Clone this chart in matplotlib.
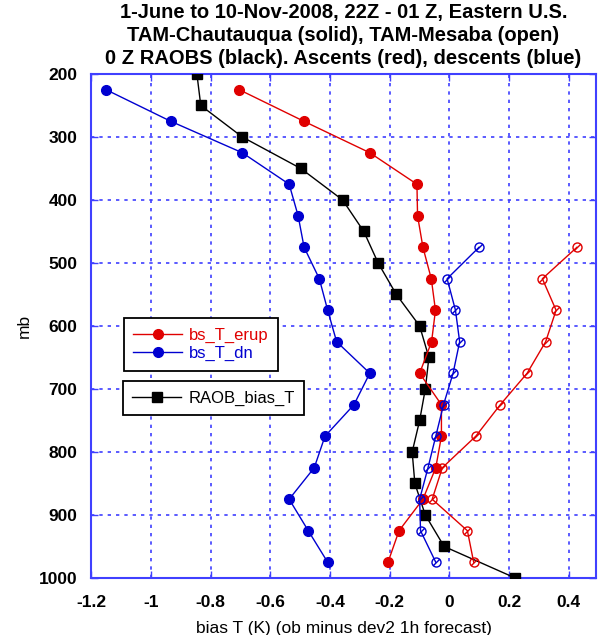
import matplotlib
matplotlib.use("Agg")
import matplotlib.pyplot as plt
from matplotlib.lines import Line2D
from matplotlib.path import Path

plt.rcParams['font.family'] = ['Liberation Sans', 'DejaVu Sans']

# RAOB bias (black squares)
p_raob = [200, 250, 300, 350, 400, 450, 500, 550, 600, 650, 700, 750, 800, 850, 900, 950, 1000]
raob = [-0.846, -0.833, -0.694, -0.498, -0.358, -0.287, -0.239, -0.178, -0.100, -0.069,
        -0.081, -0.100, -0.125, -0.116, -0.081, -0.018, 0.220]

# Chautauqua (solid)
p_ch = [225, 275, 325, 375, 425, 475, 525, 575, 625, 675, 725, 775, 825, 875, 925, 975]
ch_up = [-0.704, -0.488, -0.267, -0.109, -0.107, -0.089, -0.061, -0.047, -0.060, -0.100,
         -0.027, -0.027, -0.046, -0.089, -0.169, -0.206]
ch_dn = [-1.150, -0.934, -0.694, -0.537, -0.507, -0.487, -0.436, -0.408, -0.378, -0.267,
         -0.320, -0.417, -0.453, -0.537, -0.473, -0.408]

# Mesaba (open)
p_me = [475, 525, 575, 625, 675, 725, 775, 825, 875, 925, 975]
me_up = [0.427, 0.311, 0.357, 0.322, 0.260, 0.170, 0.088, -0.024, -0.058, 0.060, 0.081]
me_dn = [0.099, -0.008, 0.020, 0.034, 0.012, -0.020, -0.046, -0.072, -0.100, -0.097, -0.046]

xticks = [-1.2, -1, -0.8, -0.6, -0.4, -0.2, 0, 0.2, 0.4]
xtick_labels = ['-1.2', '-1', '-0.8', '-0.6', '-0.4', '-0.2', '0', '0.2', '0.4']
yticks = [200, 300, 400, 500, 600, 700, 800, 900, 1000]

RED = '#e00000'
BLUE = '#0000d0'
AXBLUE = '#4040ff'

# open circle with a slash
_circ = Path.unit_circle()
_slash = Path([[-0.6, -0.6], [0.6, 0.6]], [Path.MOVETO, Path.LINETO])
OPEN_MARK = Path.make_compound_path(_circ, _slash)

fig = plt.figure(figsize=(6.0, 6.35), dpi=100)
ax = fig.add_axes([0.152, 0.0898, 0.841, 0.7937])

ax.plot(raob, p_raob, color='black', lw=1, marker='s', ms=7, zorder=3)
ax.plot(ch_up, p_ch, color=RED, lw=1, marker='o', ms=7, zorder=4)
ax.plot(ch_dn, p_ch, color=BLUE, lw=1, marker='o', ms=7, zorder=4)
ax.plot(me_up, p_me, color=RED, lw=1, marker=OPEN_MARK, ms=6.5, mfc='none', mew=1, zorder=4)
ax.plot(me_dn, p_me, color=BLUE, lw=1, marker=OPEN_MARK, ms=6.5, mfc='none', mew=1, zorder=4)

ax.set_xlim(-1.2, 0.49)
ax.set_ylim(1000, 200)
ax.set_xticks(xticks)
ax.set_xticklabels(xtick_labels)
ax.set_yticks(yticks)
for lab in ax.get_xticklabels() + ax.get_yticklabels():
    lab.set_fontweight('bold')
    lab.set_fontsize(12.5)
ax.tick_params(direction='in', top=True, right=True, color=AXBLUE, length=5, width=1)
ax.tick_params(axis='x', pad=12)
ax.tick_params(axis='y', pad=10)
ax.grid(True, color=AXBLUE, linestyle=(0, (2, 3)), lw=1.2)
for s in ax.spines.values():
    s.set_color(AXBLUE)
    s.set_linewidth(1.5)

ax.set_xlabel('bias T (K) (ob minus dev2 1h forecast)', fontsize=12.5, labelpad=8)
ax.set_ylabel('mb', fontsize=12.5, labelpad=5)
ax.set_title('1-June to 10-Nov-2008, 22Z - 01 Z, Eastern U.S.\n'
             'TAM-Chautauqua (solid), TAM-Mesaba (open)\n'
             '0 Z RAOBS (black). Ascents (red), descents (blue)',
             fontsize=14.5, fontweight='bold', linespacing=1.27, pad=7)

h1 = [Line2D([], [], color=RED, marker='o', ms=7, lw=1),
      Line2D([], [], color=BLUE, marker='o', ms=7, lw=1)]
leg1 = ax.legend(h1, ['bs_T_erup', 'bs_T_dn'], loc='upper left',
                 bbox_to_anchor=(0.065, 0.516), fontsize=12, fancybox=False,
                 edgecolor='black', framealpha=1, handlelength=2.9, handletextpad=0.45,
                 borderaxespad=0, labelspacing=0.2, borderpad=0.57)
leg1.get_frame().set_linewidth(1.3)
for t, c in zip(leg1.get_texts(), [RED, BLUE]):
    t.set_color(c)
ax.add_artist(leg1)
h2 = [Line2D([], [], color='black', marker='s', ms=7, lw=1)]
leg2 = ax.legend(h2, ['RAOB_bias_T'], loc='upper left',
                 bbox_to_anchor=(0.063, 0.391), fontsize=12, fancybox=False,
                 edgecolor='black', framealpha=1, handlelength=2.9, handletextpad=0.45,
                 borderaxespad=0, borderpad=0.57)
leg2.get_frame().set_linewidth(1.3)

fig.savefig('out.png', dpi=100)
